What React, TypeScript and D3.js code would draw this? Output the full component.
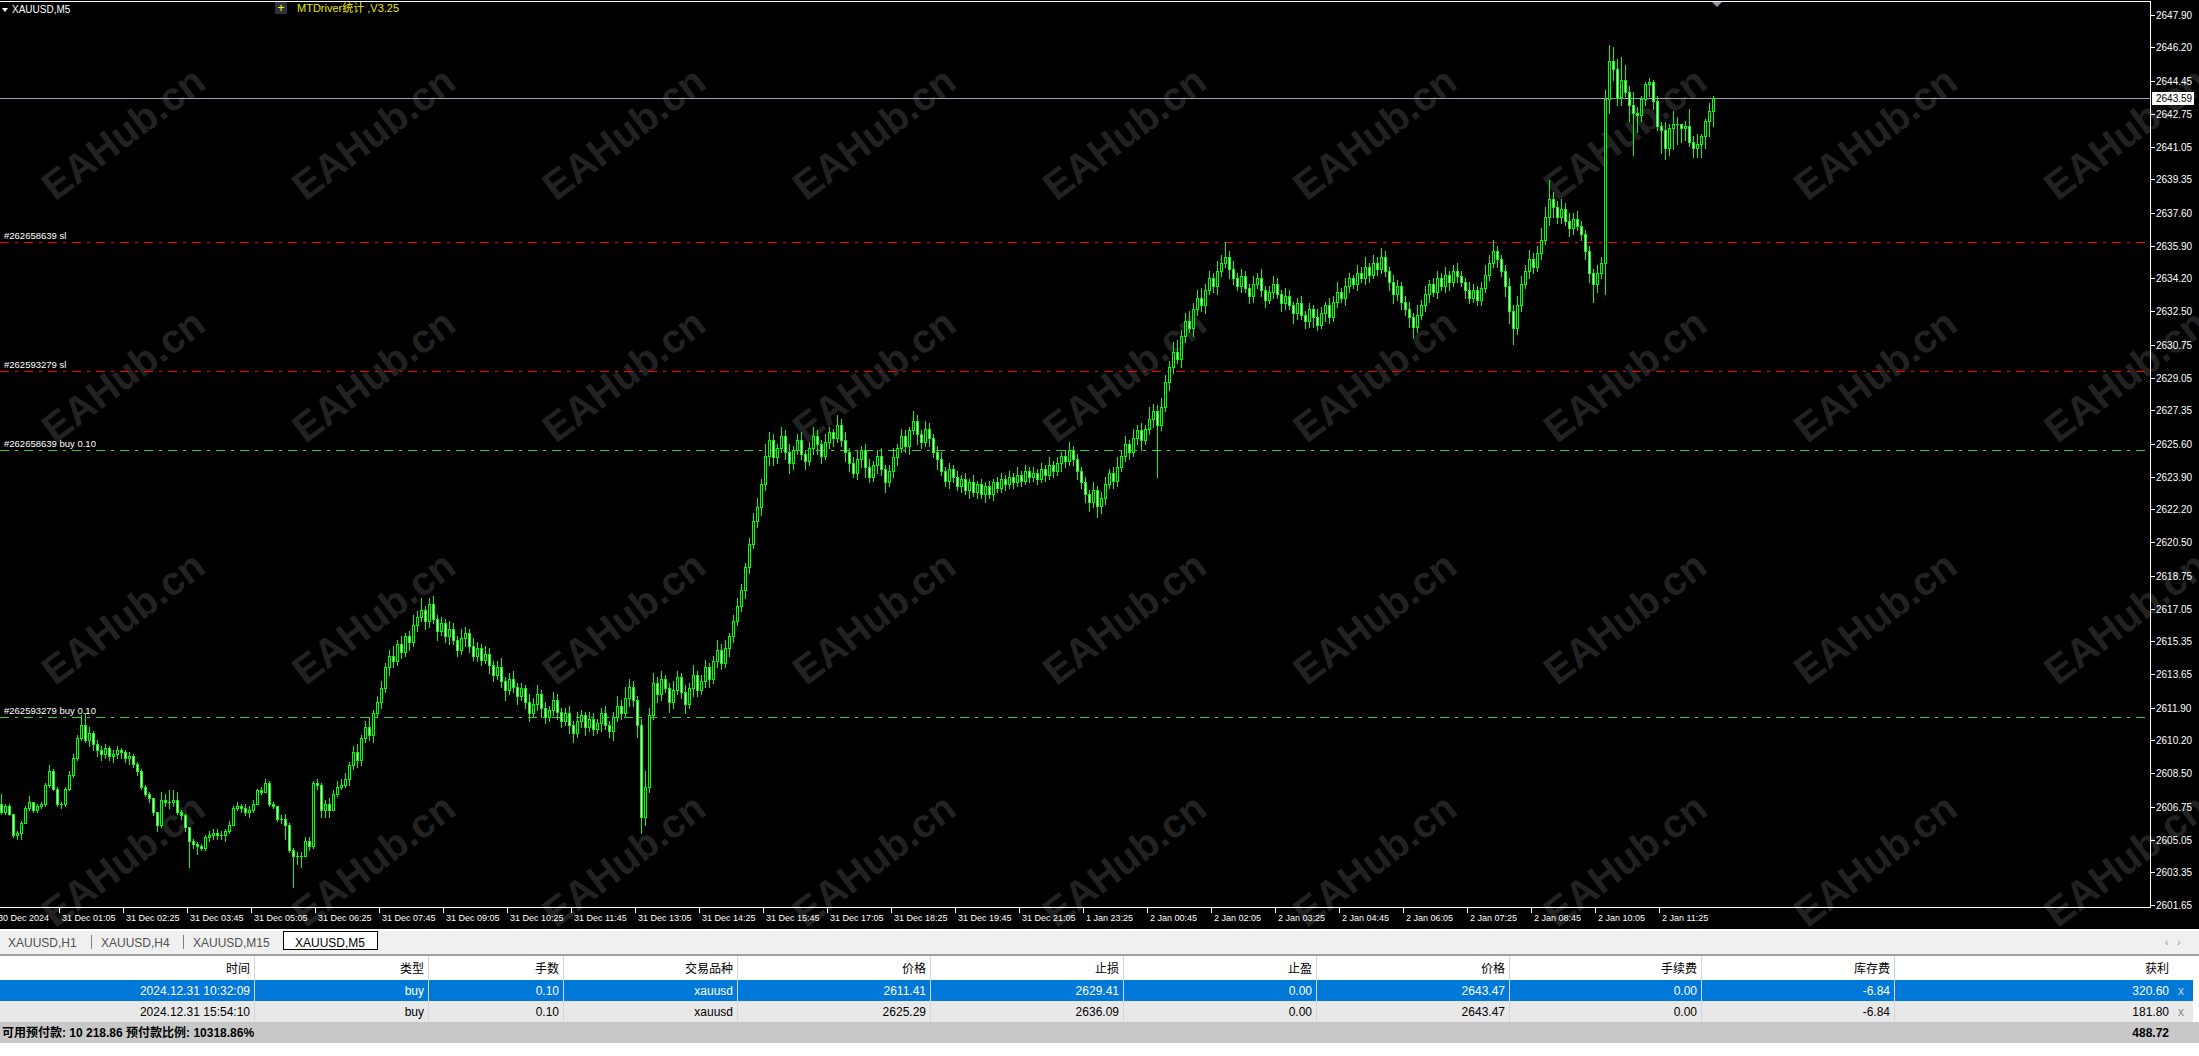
import React, { useEffect } from 'react';
import * as d3 from 'd3';

// ---------------- data ----------------
const firstOpen = 2606.9;

// close of each 5-minute bar (bar 0 = 30 Dec ~23:55 ... bar 428 = 2 Jan 12:25)
const closes = [
  2606.5, 2606.8, 2606.4, 2605.3, 2605.4, 2605.9, 2606.7, 2607.0, 2606.6, 2606.8,
  2606.9, 2607.9, 2608.6, 2607.7, 2606.9, 2606.9, 2607.7, 2608.4, 2609.3, 2610.3,
  2611.0, 2610.2, 2610.6, 2610.0, 2609.7, 2609.5, 2609.8, 2609.4, 2609.5, 2609.7,
  2609.6, 2609.3, 2609.4, 2609.0, 2608.6, 2607.8, 2607.4, 2607.2, 2606.5, 2605.8,
  2607.1, 2607.0, 2607.0, 2607.1, 2606.5, 2606.3, 2605.7, 2605.0, 2604.8, 2604.7,
  2604.6, 2605.2, 2605.3, 2605.4, 2605.3, 2605.3, 2605.5, 2605.8, 2606.7, 2606.8,
  2606.7, 2606.5, 2606.6, 2606.9, 2607.6, 2607.5, 2608.0, 2606.9, 2606.8, 2606.1,
  2606.1, 2605.8, 2604.5, 2604.2, 2604.2, 2604.2, 2605.0, 2604.7, 2608.0, 2607.9,
  2606.6, 2606.9, 2606.6, 2607.4, 2607.8, 2607.9, 2608.2, 2608.9, 2609.6, 2609.2,
  2610.3, 2610.9, 2610.5, 2611.6, 2612.2, 2612.9, 2614.0, 2614.6, 2614.3, 2615.2,
  2614.8, 2615.6, 2615.3, 2616.2, 2616.6, 2617.0, 2616.4, 2617.3, 2616.5, 2615.9,
  2616.3, 2615.6, 2616.0, 2615.4, 2614.9, 2615.5, 2615.8, 2615.1, 2614.6, 2615.0,
  2614.4, 2614.7, 2614.1, 2613.6, 2614.0, 2613.3, 2612.8, 2613.4, 2613.0, 2612.5,
  2612.9, 2612.2, 2611.6, 2612.1, 2612.6, 2611.9, 2611.4, 2611.8, 2612.3, 2611.7,
  2611.2, 2611.6, 2611.0, 2610.6, 2611.2, 2611.5, 2610.9, 2611.3, 2610.8, 2611.1,
  2611.6, 2611.0, 2610.7, 2611.4, 2612.0, 2611.6, 2612.4, 2613.0, 2612.3, 2611.0,
  2606.2, 2607.8, 2611.5, 2613.2, 2612.6, 2613.4, 2612.9, 2612.2, 2612.8, 2613.5,
  2612.7, 2612.1, 2612.9, 2613.6, 2612.8, 2613.3, 2614.0, 2613.4, 2614.3, 2614.9,
  2614.2, 2615.0, 2615.6, 2616.4, 2617.2, 2618.0, 2619.2, 2620.4, 2621.6, 2622.3,
  2623.5, 2625.0, 2625.8, 2624.9, 2625.4, 2626.0, 2625.2, 2624.6, 2625.3, 2625.8,
  2625.1, 2624.7, 2625.4, 2626.0, 2625.6, 2625.0, 2625.7, 2626.2, 2625.9, 2626.6,
  2625.8, 2625.2, 2624.6, 2624.1, 2624.8, 2625.3, 2624.4, 2623.9, 2624.5, 2625.0,
  2624.3, 2623.6, 2624.2, 2624.9, 2625.4, 2626.0, 2625.5, 2626.3, 2626.8, 2626.1,
  2625.7, 2626.4, 2625.9, 2625.2, 2624.8, 2624.2, 2623.7, 2624.3, 2623.9, 2623.4,
  2623.8, 2623.2, 2623.6, 2623.1, 2623.5, 2623.0, 2623.4, 2623.0, 2623.6, 2623.3,
  2623.8, 2623.5, 2623.9, 2623.6, 2624.0, 2623.7, 2624.2, 2623.9, 2624.1, 2623.8,
  2624.3, 2624.0, 2624.5, 2624.2, 2624.6, 2625.0, 2624.7, 2625.3, 2624.8, 2624.2,
  2623.6, 2623.0, 2622.6, 2623.2, 2622.4, 2622.8, 2623.5, 2624.1, 2623.7, 2624.4,
  2625.0, 2625.6, 2625.2, 2625.9, 2626.3, 2625.8, 2626.4, 2626.9, 2627.3, 2626.6,
  2627.5, 2628.8, 2629.6, 2630.4, 2630.0, 2631.2, 2632.0, 2631.6, 2632.6, 2633.2,
  2632.8, 2633.6, 2634.2, 2633.8, 2634.6, 2635.0, 2635.3, 2634.7, 2634.2, 2633.8,
  2634.3, 2633.7, 2633.3, 2633.9, 2634.2, 2633.6, 2633.1, 2633.5, 2633.9, 2633.4,
  2632.9, 2633.3, 2632.8, 2632.4, 2632.9, 2632.3, 2632.0, 2632.6, 2632.2, 2631.8,
  2632.4, 2632.8, 2632.2, 2633.0, 2633.5, 2633.2, 2633.8, 2634.2, 2633.9, 2634.5,
  2634.2, 2634.8, 2634.4, 2635.0, 2634.7, 2635.3, 2634.6, 2634.0, 2633.4, 2633.8,
  2633.0, 2632.6, 2632.2, 2631.7, 2632.3, 2632.8, 2633.4, 2633.9, 2633.5, 2634.2,
  2633.8, 2634.4, 2634.0, 2634.6, 2634.3, 2634.0, 2633.6, 2633.2, 2633.6, 2633.1,
  2633.7, 2634.4, 2635.0, 2635.6, 2635.2, 2634.6, 2633.8, 2632.5, 2631.6, 2632.8,
  2633.9, 2634.6, 2635.2, 2634.8, 2635.5, 2636.2, 2637.4, 2638.3, 2637.9, 2637.4,
  2637.8, 2637.2, 2636.8, 2637.3, 2636.9, 2636.5, 2635.6, 2634.5, 2633.9, 2634.5,
  2635.0, 2643.5, 2645.5, 2645.1, 2643.6, 2644.5, 2643.9, 2643.2, 2642.8, 2642.7,
  2643.5, 2644.3, 2644.4, 2643.4, 2642.1, 2641.9, 2641.0, 2642.0, 2642.2, 2642.2,
  2642.0, 2642.1, 2641.3, 2641.0, 2641.2, 2641.6, 2642.4, 2642.9, 2643.59,
];

// upper / lower shadow of each bar, in tenths of a dollar
const wickUp = [
  5, 1, 1, 0, 1, 1, 1, 3, 0, 1,
  1, 1, 3, 1, 1, 1, 1, 2, 2, 2,
  5, 6, 3, 1, 2, 2, 2, 1, 2, 2,
  1, 1, 2, 1, 1, 1, 1, 1, 0, 0,
  4, 3, 6, 5, 4, 1, 1, 0, 1, 1,
  1, 1, 2, 2, 2, 2, 1, 2, 1, 2,
  1, 2, 2, 2, 1, 2, 2, 1, 1, 0,
  2, 3, 1, 1, 2, 2, 2, 2, 1, 2,
  1, 2, 3, 2, 3, 3, 3, 2, 3, 4,
  2, 3, 5, 2, 3, 4, 2, 3, 5, 2,
  4, 2, 3, 5, 3, 6, 2, 3, 4, 2,
  3, 2, 4, 3, 2, 5, 3, 2, 4, 3,
  2, 4, 3, 2, 3, 5, 2, 3, 4, 2,
  3, 2, 4, 3, 5, 2, 3, 2, 4, 3,
  2, 3, 4, 2, 5, 3, 2, 4, 3, 2,
  3, 4, 2, 3, 5, 3, 6, 4, 3, 2,
  3, 8, 4, 5, 3, 4, 2, 3, 5, 3,
  2, 4, 3, 5, 2, 3, 4, 2, 3, 5,
  3, 4, 2, 3, 4, 3, 2, 3, 4, 5,
  3, 6, 4, 3, 2, 5, 3, 4, 2, 3,
  4, 2, 3, 5, 3, 2, 4, 3, 2, 5,
  3, 4, 2, 3, 5, 2, 3, 4, 2, 3,
  4, 2, 3, 5, 2, 4, 3, 2, 5, 3,
  2, 4, 3, 2, 3, 4, 2, 3, 2, 3,
  2, 3, 2, 4, 2, 3, 2, 3, 2, 3,
  3, 2, 3, 2, 4, 2, 3, 2, 3, 2,
  3, 2, 4, 2, 3, 2, 3, 4, 2, 3,
  2, 3, 2, 4, 2, 3, 4, 2, 3, 5,
  3, 4, 2, 5, 3, 4, 2, 6, 4, 3,
  5, 4, 3, 5, 6, 3, 4, 5, 3, 4,
  5, 3, 4, 3, 5, 4, 8, 3, 4, 3,
  4, 3, 2, 4, 3, 5, 2, 3, 4, 3,
  2, 4, 3, 2, 3, 4, 2, 3, 2, 4,
  3, 2, 4, 3, 5, 2, 4, 3, 2, 4,
  3, 5, 2, 4, 3, 5, 3, 2, 4, 3,
  2, 3, 4, 2, 5, 3, 4, 2, 3, 4,
  3, 4, 2, 3, 4, 3, 2, 4, 3, 2,
  3, 5, 4, 6, 3, 2, 3, 4, 3, 5,
  4, 3, 5, 3, 4, 6, 5, 10, 4, 3,
  5, 3, 4, 3, 4, 3, 2, 3, 2, 4,
  3, 5, 8, 7, 5, 12, 8, 3, 7, 3,
  2, 1, 2, 1, 3, 2, 4, 2, 7, 4,
  0, 3, 9, 3, 5, 1, 1, 4, 1,
];

const wickDown = [
  1, 1, 1, 1, 2, 3, 0, 1, 1, 1,
  1, 1, 1, 1, 1, 2, 1, 1, 1, 1,
  1, 1, 3, 3, 3, 3, 2, 2, 3, 2,
  3, 2, 3, 2, 2, 1, 1, 2, 2, 3,
  1, 2, 3, 2, 1, 2, 2, 14, 2, 4,
  1, 1, 2, 2, 2, 2, 3, 1, 0, 1,
  2, 2, 3, 1, 0, 1, 0, 1, 1, 1,
  2, 7, 1, 16, 4, 6, 0, 2, 1, 2,
  4, 4, 4, 0, 1, 1, 1, 3, 2, 4,
  3, 2, 3, 4, 2, 3, 2, 4, 3, 2,
  3, 2, 4, 2, 3, 2, 4, 3, 2, 5,
  2, 3, 4, 2, 3, 2, 4, 3, 2, 3,
  3, 2, 4, 3, 2, 3, 5, 2, 3, 4,
  2, 3, 4, 2, 3, 5, 3, 2, 3, 4,
  3, 2, 4, 5, 2, 3, 4, 2, 3, 2,
  4, 2, 3, 5, 2, 3, 2, 4, 3, 6,
  8, 4, 3, 2, 4, 3, 2, 5, 3, 2,
  3, 5, 2, 4, 3, 2, 3, 4, 2, 3,
  3, 2, 4, 3, 2, 3, 4, 3, 2, 3,
  4, 3, 5, 4, 3, 2, 4, 5, 3, 2,
  3, 4, 2, 3, 5, 4, 2, 3, 4, 2,
  3, 5, 4, 2, 3, 4, 5, 3, 2, 4,
  3, 5, 2, 3, 4, 2, 3, 4, 2, 5,
  3, 2, 4, 3, 5, 2, 3, 4, 3, 2,
  3, 2, 4, 2, 3, 2, 4, 2, 3, 2,
  2, 3, 2, 3, 2, 3, 2, 3, 2, 3,
  2, 3, 2, 3, 2, 4, 3, 2, 3, 4,
  3, 4, 5, 3, 6, 4, 3, 2, 4, 3,
  2, 3, 4, 2, 3, 5, 2, 3, 4, 27,
  3, 2, 4, 3, 2, 4, 3, 2, 4, 3,
  3, 4, 2, 3, 4, 3, 2, 5, 3, 2,
  3, 2, 4, 3, 2, 3, 4, 2, 3, 2,
  4, 3, 2, 5, 3, 2, 4, 3, 5, 3,
  2, 4, 3, 2, 3, 2, 4, 3, 2, 3,
  2, 3, 4, 2, 3, 2, 3, 4, 5, 3,
  4, 3, 5, 6, 3, 2, 3, 4, 2, 3,
  2, 3, 4, 2, 3, 2, 4, 3, 2, 3,
  3, 2, 3, 2, 4, 3, 5, 6, 8, 3,
  3, 2, 4, 3, 2, 3, 2, 4, 5, 3,
  3, 2, 4, 3, 2, 3, 4, 5, 9, 4,
  3, 16, 7, 6, 4, 4, 2, 8, 22, 9,
  3, 3, 6, 4, 2, 12, 6, 4, 11, 10,
  7, 6, 2, 5, 5, 7, 6, 8, 8,
];

const priceTicks = [
  2647.90, 2646.20, 2644.45, 2642.75, 2641.05, 2639.35, 2637.60, 2635.90, 2634.20, 2632.50,
  2630.75, 2629.05, 2627.35, 2625.60, 2623.90, 2622.20, 2620.50, 2618.75, 2617.05, 2615.35,
  2613.65, 2611.90, 2610.20, 2608.50, 2606.75, 2605.05, 2603.35, 2601.65,
];

const timeLabels = [
  '30 Dec 2024', '31 Dec 01:05', '31 Dec 02:25', '31 Dec 03:45', '31 Dec 05:05', '31 Dec 06:25',
  '31 Dec 07:45', '31 Dec 09:05', '31 Dec 10:25', '31 Dec 11:45', '31 Dec 13:05', '31 Dec 14:25',
  '31 Dec 15:45', '31 Dec 17:05', '31 Dec 18:25', '31 Dec 19:45', '31 Dec 21:05', '1 Jan 23:25',
  '2 Jan 00:45', '2 Jan 02:05', '2 Jan 03:25', '2 Jan 04:45', '2 Jan 06:05', '2 Jan 07:25',
  '2 Jan 08:45', '2 Jan 10:05', '2 Jan 11:25',
];
const timeLabelFirstBar = -2;
const timeLabelEvery = 16;

const orderLabels = ['#262658639 sl', '#262593279 sl', '#262658639 buy 0.10', '#262593279 buy 0.10'];
const orderPrices = [2636.09, 2629.41, 2625.29, 2611.41];
const orderKinds = ['sl', 'sl', 'buy', 'buy'];
const bidPrice = 2643.59;

const symbolTitle = 'XAUUSD,M5';
const indicatorTitle = 'MTDriver统计 ,V3.25';
const tabNames = ['XAUUSD,H1', 'XAUUSD,H4', 'XAUUSD,M15', 'XAUUSD,M5'];
const activeTab = 3;

const columnHeaders = ['时间', '类型', '手数', '交易品种', '价格', '止损', '止盈', '价格', '手续费', '库存费', '获利'];
const tableRows = [
  ['2024.12.31 10:32:09', 'buy', '0.10', 'xauusd', '2611.41', '2629.41', '0.00', '2643.47', '0.00', '-6.84', '320.60'],
  ['2024.12.31 15:54:10', 'buy', '0.10', 'xauusd', '2625.29', '2636.09', '0.00', '2643.47', '0.00', '-6.84', '181.80'],
];
const summaryText = '可用预付款: 10 218.86  预付款比例: 10318.86%';
const totalProfit = '488.72';
const watermarkText = 'EAHub.cn';

// ---------------- drawing ----------------
const FONT = '"Liberation Sans", "Noto Sans CJK SC", Arial, sans-serif';
const LIME = '#00ff00';

export default function App() {
  useEffect(() => {
    document.body.style.margin = '0';
    document.body.style.background = '#ffffff';
  }, []);

  const n = Math.min(closes.length, wickUp.length, wickDown.length);
  const x = d3.scaleLinear().domain([0, 1]).range([1.5, 5.5]);
  const y = d3.scaleLinear().domain([2601.65, 2647.9]).range([905, 14.7]);

  const bars = d3.range(n).map((i) => {
    const o = i === 0 ? firstOpen : closes[i - 1];
    const c = closes[i];
    const h = Math.max(o, c) + wickUp[i] / 10;
    const l = Math.min(o, c) - wickDown[i] / 10;
    return { i, o, h, l, c };
  });

  const chartRight = 2150;
  const axisY = 907;

  const wmCols = d3.range(9).map((k) => 123 + 250.3 * k);
  const wmRows = d3.range(4).map((j) => 133 + 242.3 * j);

  const colEdges = [0, 254, 428, 563, 737, 930, 1123, 1316, 1509, 1701, 1894, 2193];
  const colRight = (k: number) => (k === columnHeaders.length - 1 ? 2169 : colEdges[k + 1] - 4);

  const tabX = [8, 101, 193, 295];

  return (
    <svg width={2199} height={1056} style={{ position: 'absolute', left: 0, top: 0, display: 'block' }}
      fontFamily={FONT}>
      <defs>
        <clipPath id="chartClip"><rect x={0} y={0} width={2199} height={928} /></clipPath>
      </defs>
      <rect x={0} y={0} width={2199} height={1056} fill="#ffffff" />
      <rect x={0} y={0} width={2199} height={929} fill="#000000" />

      {/* watermark */}
      <g clipPath="url(#chartClip)">
        {wmRows.map((ry, j) => wmCols.map((cx, k) => (
          <text key={`wm${j}-${k}`} transform={`translate(${cx},${ry}) rotate(-37)`} textAnchor="middle"
            dominantBaseline="central" fontSize={40} fontWeight="bold" fill="#222222"
            fontFamily='"Liberation Sans", Arial, sans-serif'>{watermarkText}</text>
        )))}
      </g>

      {/* order lines */}
      {orderPrices.map((p, k) => {
        const yy = Math.round(y(p)) + 0.5;
        const col = orderKinds[k] === 'sl' ? '#ff0000' : '#32cd32';
        return (
          <g key={`ol${k}`}>
            <line x1={0} x2={chartRight} y1={yy} y2={yy} stroke={col} strokeWidth={1}
              strokeDasharray="9,6,3,6" shapeRendering="crispEdges" />
            <text x={4} y={yy - 3.5} fontSize={9.5} fill="#ffffff">{orderLabels[k]}</text>
          </g>
        );
      })}

      {/* bid line */}
      <line x1={0} x2={chartRight} y1={Math.round(y(bidPrice)) + 0.5} y2={Math.round(y(bidPrice)) + 0.5}
        stroke="#9aa4ae" strokeWidth={1} shapeRendering="crispEdges" />

      {/* candles */}
      <g shapeRendering="crispEdges">
        {bars.map((b) => {
          const left = Math.round(x(b.i) - 1.5);
          const top = Math.round(y(Math.max(b.o, b.c)));
          const bot = Math.round(y(Math.min(b.o, b.c)));
          const hy = Math.round(y(b.h));
          const ly = Math.round(y(b.l));
          const bull = b.c >= b.o;
          const hgt = bot - top;
          return (
            <g key={`c${b.i}`}>
              <rect x={left + 1} y={hy} width={1} height={Math.max(1, ly - hy + 1)} fill={LIME} />
              <rect x={left} y={top} width={3} height={Math.max(1, hgt + 1)} fill={LIME} />
              {hgt >= 2 && (
                <rect x={left + 1} y={top + 1} width={1} height={hgt - 1} fill={bull ? '#000000' : '#ffffff'} />
              )}
            </g>
          );
        })}
      </g>

      {/* frame */}
      <g shapeRendering="crispEdges">
        <rect x={0} y={1} width={chartRight + 1} height={1} fill="#ffffff" />
        <rect x={chartRight} y={1} width={1} height={axisY} fill="#ffffff" />
        <rect x={0} y={axisY} width={chartRight + 1} height={1} fill="#ffffff" />
      </g>

      {/* chart shift marker */}
      <polygon points="1712,2 1722,2 1717,7" fill="#8c96a0" />

      {/* price axis */}
      {priceTicks.map((v, k) => {
        const yy = Math.round(y(v));
        return (
          <g key={`pt${k}`}>
            <rect x={chartRight + 1} y={yy} width={4} height={1} fill="#ffffff" shapeRendering="crispEdges" />
            <text x={2156} y={yy + 4} fontSize={10} fill="#ffffff">{v.toFixed(2)}</text>
          </g>
        );
      })}
      <rect x={2152} y={Math.round(y(bidPrice)) - 6} width={42} height={13} fill="#ffffff" />
      <text x={2156} y={Math.round(y(bidPrice)) + 4} fontSize={10} fill="#000000">{bidPrice.toFixed(2)}</text>

      {/* time axis */}
      {timeLabels.map((t, k) => {
        const bi = timeLabelFirstBar + k * timeLabelEvery;
        const xx = Math.round(x(bi)) + 1;
        return (
          <g key={`tl${k}`}>
            <rect x={xx} y={axisY + 1} width={1} height={5} fill="#ffffff" shapeRendering="crispEdges" />
            <text x={xx + 3} y={921} fontSize={9} fill="#ffffff">{t}</text>
          </g>
        );
      })}

      {/* header */}
      <polygon points="2,8 8,8 5,12" fill="#ffffff" />
      <text x={12} y={12.5} fontSize={10} fill="#ffffff">{symbolTitle}</text>
      <rect x={275} y={2} width={12} height={12} fill="#2e333b" />
      <text x={281} y={12} fontSize={12} fill="#ffff00" textAnchor="middle">+</text>
      <text x={297} y={12} fontSize={11} fill="#e8e800">{indicatorTitle}</text>

      {/* bottom terminal */}
      <rect x={0} y={929} width={2199} height={2} fill="#ffffff" />
      <rect x={0} y={931} width={2199} height={24} fill="#f0f0f0" />
      <rect x={0} y={954} width={2199} height={2} fill="#a0a0a0" />
      {tabNames.map((t, k) => (
        <g key={`tab${k}`}>
          {k === activeTab && (
            <rect x={283.5} y={931.5} width={94} height={18} fill="#ffffff" stroke="#000000" strokeWidth={1} />
          )}
          <text x={tabX[k]} y={947} fontSize={12} fill={k === activeTab ? '#000000' : '#505050'}>{t}</text>
          {k < tabNames.length - 2 && (
            <rect x={tabX[k + 1] - 10} y={935} width={1} height={14} fill="#808080" />
          )}
        </g>
      ))}
      <text x={2165} y={946} fontSize={11} fill="#9a9a9a">‹</text>
      <text x={2177} y={946} fontSize={11} fill="#9a9a9a">›</text>

      <rect x={0} y={956} width={2193} height={24} fill="#ffffff" />
      <rect x={0} y={980} width={2193} height={21} fill="#0078d7" />
      <rect x={0} y={1001} width={2193} height={21} fill="#e8e8e8" />
      <rect x={0} y={1022} width={2199} height={21} fill="#c8c8c8" />
      {colEdges.slice(1, colEdges.length - 1).map((e, k) => (
        <rect key={`sep${k}`} x={e} y={956} width={1} height={66} fill="#d6d6d6" />
      ))}
      {columnHeaders.map((h, k) => (
        <text key={`hd${k}`} x={colRight(k)} y={973} fontSize={12} textAnchor="end" fill="#000000">{h}</text>
      ))}
      {tableRows.map((row, r) => (
        <g key={`row${r}`}>
          {row.map((cell, k) => (
            <text key={`cell${r}-${k}`} x={colRight(k)} y={995 + r * 21} fontSize={12} textAnchor="end"
              fill={r === 0 ? '#ffffff' : '#000000'}>{cell}</text>
          ))}
          <text x={2178} y={995 + r * 21} fontSize={12} fill={r === 0 ? '#c8d4e0' : '#8a8a8a'}>x</text>
        </g>
      ))}
      <text x={2} y={1037} fontSize={12} fontWeight="bold" fill="#000000">{summaryText}</text>
      <text x={colRight(columnHeaders.length - 1)} y={1037} fontSize={12} fontWeight="bold" textAnchor="end"
        fill="#000000">{totalProfit}</text>
    </svg>
  );
}
